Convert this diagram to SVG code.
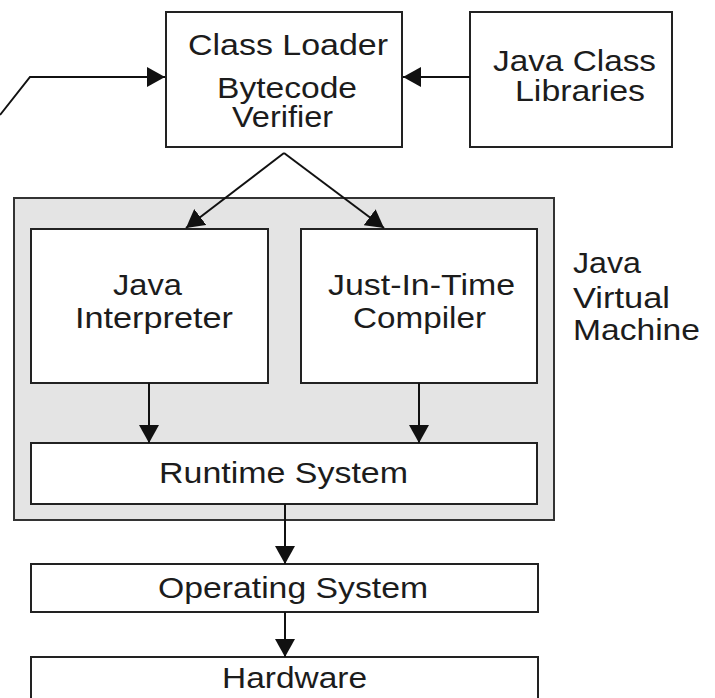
<svg xmlns="http://www.w3.org/2000/svg" width="715" height="698" viewBox="0 0 715 698">
<style>
.box{fill:#fff;stroke:#222;stroke-width:2}
.jvm{fill:#e4e4e4;stroke:#333;stroke-width:2}
.t{font-family:"Liberation Sans",Arial,sans-serif;font-size:29px;fill:#1c1c1c}
.c{stroke:#111;stroke-width:2;fill:none}
</style>
<defs>
<marker id="ah" viewBox="0 0 18 20" refX="18" refY="10" markerWidth="18" markerHeight="20" markerUnits="userSpaceOnUse" orient="auto">
<path d="M0,0 L18,10 L0,20 z" fill="#111"/>
</marker>
</defs>
<g id="jvm">
<rect class="jvm" x="14" y="198" width="540" height="322"/>
<text class="t" x="573" y="273" textLength="68" lengthAdjust="spacingAndGlyphs">Java</text>
<text class="t" x="573" y="308" textLength="97" lengthAdjust="spacingAndGlyphs">Virtual</text>
<text class="t" x="573" y="340" textLength="127" lengthAdjust="spacingAndGlyphs">Machine</text>
</g>
<g id="classloader">
<rect class="box" x="166" y="12" width="236" height="135"/>
<text class="t" x="188" y="55" textLength="200" lengthAdjust="spacingAndGlyphs">Class Loader</text>
<text class="t" x="217" y="98" textLength="140" lengthAdjust="spacingAndGlyphs">Bytecode</text>
<text class="t" x="232" y="127" textLength="101" lengthAdjust="spacingAndGlyphs">Verifier</text>
</g>
<g id="libraries">
<rect class="box" x="470" y="12" width="202" height="135"/>
<text class="t" x="493" y="71" textLength="163" lengthAdjust="spacingAndGlyphs">Java Class</text>
<text class="t" x="515" y="101" textLength="130" lengthAdjust="spacingAndGlyphs">Libraries</text>
</g>
<g id="interpreter">
<rect class="box" x="31" y="229" width="237" height="154"/>
<text class="t" x="113" y="295" textLength="69" lengthAdjust="spacingAndGlyphs">Java</text>
<text class="t" x="75" y="328" textLength="158" lengthAdjust="spacingAndGlyphs">Interpreter</text>
</g>
<g id="jit">
<rect class="box" x="301" y="229" width="236" height="154"/>
<text class="t" x="328" y="295" textLength="187" lengthAdjust="spacingAndGlyphs">Just-In-Time</text>
<text class="t" x="353" y="328" textLength="133" lengthAdjust="spacingAndGlyphs">Compiler</text>
</g>
<g id="runtime">
<rect class="box" x="31" y="443" width="506" height="61"/>
<text class="t" x="159" y="483" textLength="249" lengthAdjust="spacingAndGlyphs">Runtime System</text>
</g>
<g id="os">
<rect class="box" x="31" y="564" width="507" height="48"/>
<text class="t" x="158" y="598" textLength="270" lengthAdjust="spacingAndGlyphs">Operating System</text>
</g>
<g id="hardware">
<rect class="box" x="31" y="657" width="507" height="60"/>
<text class="t" x="222" y="688" textLength="145" lengthAdjust="spacingAndGlyphs">Hardware</text>
</g>
<g id="connectors">
<polyline class="c" points="0,115 30,77 165,77" marker-end="url(#ah)"/>
<line class="c" x1="470" y1="77" x2="403" y2="77" marker-end="url(#ah)"/>
<line class="c" x1="284" y1="153" x2="186" y2="228" marker-end="url(#ah)"/>
<line class="c" x1="284" y1="153" x2="384" y2="228" marker-end="url(#ah)"/>
<line class="c" x1="149" y1="383" x2="149" y2="443" marker-end="url(#ah)"/>
<line class="c" x1="419" y1="383" x2="419" y2="443" marker-end="url(#ah)"/>
<line class="c" x1="285" y1="504" x2="285" y2="564" marker-end="url(#ah)"/>
<line class="c" x1="285" y1="612" x2="285" y2="657" marker-end="url(#ah)"/>
</g>
</svg>
